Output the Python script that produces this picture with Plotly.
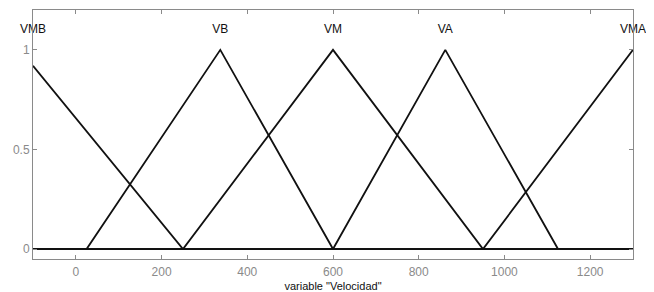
import plotly.graph_objects as go

x_range = [-100, 1300]
names = ["VMB", "VB", "VM", "VA", "VMA"]
vmb_x = [-100, 250, 1300]
vmb_y = [0.92, 0, 0]
vb_x = [-100, 25, 337, 600, 1300]
vb_y = [0, 0, 1, 0, 0]
vm_x = [-100, 250, 600, 950, 1300]
vm_y = [0, 0, 1, 0, 0]
va_x = [-100, 600, 862, 1125, 1300]
va_y = [0, 0, 1, 0, 0]
vma_x = [-100, 950, 1300]
vma_y = [0, 0, 1]
label_x = [-100, 337, 600, 862, 1300]
label_y = [1.1, 1.1, 1.1, 1.1, 1.1]
x_ticks = [0, 200, 400, 600, 800, 1000, 1200]
y_ticks = [0, 0.5, 1]
y_tick_text = ["0", "0.5", "1"]

fig = go.Figure()
for xs, ys in [(vmb_x, vmb_y), (vb_x, vb_y), (vm_x, vm_y), (va_x, va_y), (vma_x, vma_y)]:
    fig.add_trace(go.Scatter(x=xs, y=ys, mode="lines",
                             line=dict(color="#111111", width=1.8),
                             showlegend=False, hoverinfo="skip", cliponaxis=False))

fig.add_trace(go.Scatter(x=label_x, y=label_y, mode="text", text=names,
                         textfont=dict(family="Liberation Sans, Arial", size=12, color="#111111"),
                         showlegend=False, cliponaxis=False))

axis_common = dict(showgrid=False, zeroline=False, showline=True, linecolor="#8a8a8a",
                   linewidth=1, mirror="ticks", ticks="inside", ticklen=4,
                   tickcolor="#8a8a8a",
                   tickfont=dict(family="Liberation Sans, Arial", size=12, color="#8a8a8a"))

fig.update_xaxes(range=x_range, tickvals=x_ticks, ticklabelstandoff=2, **axis_common,
                 title=dict(text='variable "Velocidad"', standoff=4,
                            font=dict(family="Liberation Sans, Arial", size=11, color="#111111")))
fig.update_yaxes(range=[-0.05, 1.2], tickvals=y_ticks, ticktext=y_tick_text, **axis_common)

# page body has an 8px default margin, so the figure is sized to fill the rest
fig.update_layout(width=646, height=284, margin=dict(l=25, r=21, t=2, b=33, autoexpand=False),
                  plot_bgcolor="white", paper_bgcolor="white")

fig.write_html("out.html")
